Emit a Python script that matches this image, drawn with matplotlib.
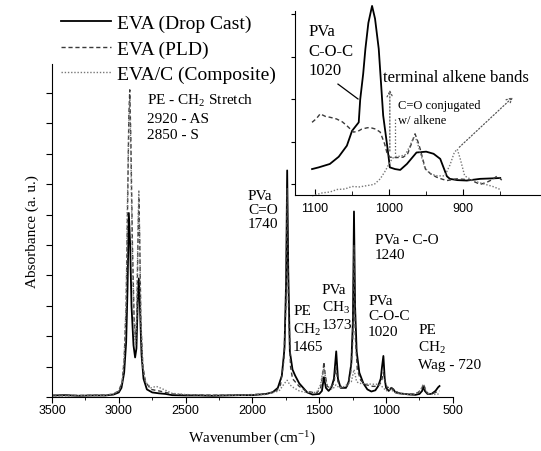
import matplotlib
matplotlib.use('Agg')
import matplotlib.pyplot as plt
from matplotlib.ticker import MultipleLocator, FixedLocator

plt.rcParams['font.family'] = ['Liberation Serif', 'DejaVu Serif']
plt.rcParams['mathtext.fontset'] = 'custom'
plt.rcParams['mathtext.rm'] = 'Liberation Serif'
plt.rcParams['mathtext.it'] = 'Liberation Serif:italic'

# ---- main spectra (wavenumber, absorbance in arbitrary units) ----
drop_wn = [3500, 3400, 3300, 3200, 3100, 3040, 3000, 2980, 2960, 2945, 2935, 2925, 2915, 2905,
           2890, 2878, 2868, 2858, 2850, 2842, 2830, 2815, 2790, 2750, 2700, 2650, 2600, 2500,
           2400, 2300, 2200, 2100, 2000, 1900, 1850, 1810, 1780, 1760, 1748, 1740, 1732, 1720,
           1700, 1680, 1650, 1620, 1590, 1550, 1500, 1480, 1465, 1450, 1430, 1410, 1390, 1373,
           1360, 1340, 1300, 1280, 1260, 1248, 1240, 1232, 1220, 1200, 1170, 1140, 1110, 1080,
           1060, 1040, 1030, 1020, 1010, 1000, 980, 960, 945, 930, 900, 860, 820, 780, 750,
           730, 720, 710, 690, 660, 630, 610, 600]
drop_abs = [0.05, 0.06, 0.04, 0.05, 0.05, 0.08, 0.15, 0.3, 0.8, 1.8, 3.5, 6.05, 5.0, 3.0,
            1.7, 1.3, 1.6, 3.2, 3.9, 3.0, 1.4, 0.6, 0.25, 0.15, 0.12, 0.1, 0.06, 0.05,
            0.05, 0.04, 0.05, 0.06, 0.06, 0.1, 0.15, 0.3, 0.7, 1.6, 3.8, 7.45, 4.2, 1.5,
            0.9, 0.7, 0.45, 0.3, 0.15, 0.08, 0.1, 0.2, 0.65, 0.3, 0.2, 0.3, 0.6, 1.5,
            0.6, 0.3, 0.3, 0.5, 1.1, 2.5, 6.1, 3.0, 1.5, 0.8, 0.45, 0.25, 0.18, 0.22,
            0.35, 0.6, 1.0, 1.35, 0.6, 0.3, 0.2, 0.3, 0.25, 0.15, 0.12, 0.1, 0.08, 0.07, 0.1,
            0.2, 0.35, 0.2, 0.1, 0.1, 0.2, 0.32, 0.36]

pld_wn = [3500, 3300, 3100, 3040, 3000, 2975, 2960, 2945, 2935, 2925, 2918, 2910, 2898, 2885,
          2875, 2865, 2857, 2850, 2843, 2835, 2820, 2800, 2760, 2700, 2650, 2600, 2500, 2300,
          2100, 1900, 1820, 1790, 1765, 1750, 1740, 1730, 1715, 1700, 1680, 1650, 1600, 1520,
          1490, 1475, 1465, 1455, 1440, 1420, 1390, 1375, 1360, 1330, 1290, 1265, 1250, 1240,
          1230, 1215, 1190, 1150, 1100, 1060, 1035, 1020, 1005, 990, 970, 950, 930, 900, 850,
          800, 760, 735, 720, 705, 690, 660, 630, 600]
pld_abs = [0.05, 0.05, 0.06, 0.1, 0.2, 0.5, 1.2, 3.0, 6.0, 9.2, 10.1, 8.5, 5.0, 2.5,
           1.9, 2.6, 5.0, 6.5, 5.0, 2.5, 1.0, 0.5, 0.25, 0.2, 0.15, 0.1, 0.07, 0.06,
           0.06, 0.1, 0.2, 0.4, 1.2, 3.0, 6.85, 3.0, 1.0, 0.6, 0.5, 0.35, 0.2, 0.12,
           0.3, 0.7, 1.15, 0.7, 0.35, 0.3, 0.45, 1.0, 0.5, 0.3, 0.35, 0.8, 1.8, 5.0,
           2.0, 0.9, 0.55, 0.4, 0.35, 0.35, 0.5, 0.8, 0.45, 0.3, 0.35, 0.25, 0.2, 0.12, 0.1,
           0.1, 0.15, 0.25, 0.43, 0.25, 0.12, 0.1, 0.15, 0.2]

comp_wn = [3500, 3300, 3100, 3040, 3000, 2975, 2960, 2945, 2935, 2925, 2918, 2910, 2898, 2885,
           2875, 2865, 2857, 2850, 2843, 2835, 2820, 2800, 2760, 2720, 2680, 2640, 2600, 2500,
           2300, 2100, 1900, 1800, 1760, 1740, 1720, 1690, 1650, 1600, 1520, 1490, 1475, 1465,
           1455, 1440, 1400, 1375, 1350, 1310, 1280, 1260, 1240, 1220, 1200, 1150, 1100, 1060,
           1040, 1020, 1000, 970, 950, 920, 880, 830, 780, 745, 725, 718, 705, 690, 650, 600]
comp_abs = [0.03, 0.04, 0.05, 0.1, 0.2, 0.5, 1.3, 3.2, 6.5, 9.0, 9.8, 8.0, 4.5, 2.2,
            1.7, 2.8, 5.5, 6.8, 5.0, 2.5, 1.0, 0.5, 0.3, 0.35, 0.28, 0.2, 0.12, 0.08,
            0.06, 0.06, 0.08, 0.2, 0.45, 0.55, 0.4, 0.3, 0.2, 0.15, 0.15, 0.4, 0.8, 0.95,
            0.7, 0.35, 0.25, 0.4, 0.3, 0.35, 0.45, 0.5, 0.9, 0.5, 0.45, 0.43, 0.42, 0.42,
            0.38, 0.3, 0.2, 0.25, 0.2, 0.12, 0.1, 0.08, 0.1, 0.2, 0.38, 0.42, 0.25, 0.12, 0.08, 0.1]

# ---- inset: 1100-850 cm-1 region ----
in_drop_wn = [1104, 1095, 1080, 1068, 1057, 1050, 1041, 1039, 1035, 1032, 1028, 1023, 1019, 1014,
              1008, 1002, 999, 992, 985, 976, 963, 950, 940, 931, 922, 918, 908, 895, 877, 862, 850]
in_drop_abs = [0.36, 0.40, 0.48, 0.65, 0.91, 1.26, 1.46, 2.0, 2.6, 3.19, 3.8, 4.2, 3.9, 3.19,
               1.62, 0.83, 0.40, 0.36, 0.34, 0.48, 0.75, 0.77, 0.72, 0.6, 0.19, 0.13, 0.1, 0.09,
               0.13, 0.14, 0.15]

in_pld_wn = [1104, 1098, 1093, 1086, 1080, 1071, 1063, 1057, 1048, 1042, 1037, 1030, 1026, 1018,
             1012, 1006, 1003, 999, 990, 981, 975, 970, 965, 961, 958, 951, 944, 936, 928, 922,
             915, 909, 900, 890, 877, 868, 860, 854, 848]
in_pld_abs = [1.46, 1.55, 1.66, 1.60, 1.58, 1.54, 1.47, 1.38, 1.23, 1.25, 1.30, 1.33, 1.34, 1.30,
              1.23, 0.95, 0.75, 0.64, 0.63, 0.64, 0.72, 0.95, 1.19, 1.0, 0.83, 0.36, 0.25, 0.17,
              0.12, 0.09, 0.11, 0.13, 0.12, 0.1, 0.0, 0.05, 0.12, 0.2, 0.1]

in_comp_wn = [1104, 1090, 1080, 1070, 1060, 1050, 1040, 1030, 1020, 1012, 1005, 999, 995, 990,
              985, 978, 972, 967, 963, 958, 952, 945, 935, 925, 918, 912, 908, 904, 898, 890,
              880, 870, 860, 850]
in_comp_abs = [-0.27, -0.2, -0.18, -0.12, -0.11, -0.05, -0.06, -0.03, 0.0, 0.13, 0.32, 0.52, 0.62,
               0.66, 0.66, 0.7, 0.9, 1.1, 1.05, 0.75, 0.4, 0.25, 0.2, 0.2, 0.45, 0.75, 0.83, 0.6,
               0.2, 0.12, 0.05, 0.0, -0.05, -0.12]

in_ticks = [1100, 1000, 900]
in_minor_ticks = [1050, 950, 850]

labels = ['EVA (Drop Cast)', 'EVA (PLD)', 'EVA/C (Composite)']

solid = dict(color='black', lw=1.3)
dashed = dict(color='#3a3a3a', lw=1.0, linestyle=(0, (3, 2)))
dotted = dict(color='#777777', lw=1.0, linestyle=(0, (1, 1.3)))

fig = plt.figure(figsize=(5.41, 4.52), dpi=100)
ax = fig.add_axes([0.0961, 0.1195, 0.741, 0.7367])

l1, = ax.plot(drop_wn, drop_abs, **solid)
l2, = ax.plot(pld_wn, pld_abs, **dashed)
l3, = ax.plot(comp_wn, comp_abs, **dotted)

ax.set_xlim(3500, 500)
ax.set_ylim(0, 10.95)
ax.xaxis.set_major_locator(MultipleLocator(500))
ax.xaxis.set_minor_locator(MultipleLocator(250))
ax.yaxis.set_major_locator(MultipleLocator(1))
ax.set_yticklabels([])
for s in ['top', 'right']:
    ax.spines[s].set_visible(False)
ax.tick_params(axis='x', which='major', direction='out', length=4, pad=1, labelsize=9)
ax.tick_params(axis='x', which='minor', direction='out', length=2)
ax.tick_params(axis='y', direction='out', length=4)
for t in ax.get_xticklabels():
    t.set_fontfamily('Liberation Sans')
ax.set_xlabel('Wavenumber (cm$^{-1}$)', fontsize=11, labelpad=9)
ax.set_ylabel('Absorbance (a. u.)', fontsize=11, labelpad=2)

fs = 11
ax.text(2789, 10.03, 'PE - CH$_2$ Stretch\n2920 - AS\n2850 - S', fontsize=fs, va='top', linespacing=1.37)
ax.text(2033, 6.84, 'PVa\nC=O\n1740', fontsize=fs, va='top', linespacing=1.11)
ax.text(1696, 3.06, 'PE\nCH$_2$\n1465', fontsize=fs, va='top', linespacing=1.3)
ax.text(1481, 3.75, 'PVa\nCH$_3$\n1373', fontsize=fs, va='top', linespacing=1.25)
ax.text(1082, 5.4, 'PVa - C-O\n1240', fontsize=fs, va='top', linespacing=1.18)
ax.text(1134, 3.39, 'PVa\nC-O-C\n1020', fontsize=fs, va='top', linespacing=1.24)
ax.text(760, 2.43, 'PE\nCH$_2$\nWag - 720', fontsize=fs, va='top', linespacing=1.25)

fig.legend([l1, l2, l3], labels, loc='upper left', bbox_to_anchor=(0.094, 0.987),
           frameon=False, fontsize=14, borderpad=0, handlelength=2.6,
           handletextpad=0.3, labelspacing=0.4)

# ---- inset ----
axin = fig.add_axes([0.5453, 0.5664, 0.4547, 0.407])
axin.patch.set_alpha(0)
axin.plot(in_drop_wn, in_drop_abs, clip_on=False, **solid)
axin.plot(in_pld_wn, in_pld_abs, clip_on=False, **dashed)
axin.plot(in_comp_wn, in_comp_abs, clip_on=False, **dotted)
axin.set_xlim(1127, 795)
axin.set_ylim(-0.25, 4.08)
axin.xaxis.set_major_locator(FixedLocator(in_ticks))
axin.xaxis.set_minor_locator(FixedLocator(in_minor_ticks))
axin.yaxis.set_major_locator(MultipleLocator(1))
axin.set_yticklabels([])
for s in ['top', 'right']:
    axin.spines[s].set_visible(False)
axin.tick_params(axis='x', which='major', direction='in', length=4, pad=5, labelsize=9)
axin.tick_params(axis='x', which='minor', direction='in', length=3)
axin.tick_params(axis='y', direction='out', length=3)
for t in axin.get_xticklabels():
    t.set_fontfamily('Liberation Sans')

axin.text(1109, 3.8, 'PVa\nC-O-C\n1020', fontsize=12, va='top', linespacing=1.3)
axin.plot([1069, 1042], [2.36, 2.01], color='black', lw=0.9)
axin.text(1008, 2.53, 'terminal alkene bands', fontsize=12, va='center')
axin.text(988, 2.0, 'C=O conjugated\nw/ alkene', fontsize=9, va='top', linespacing=1.3)
arrow = dict(arrowstyle='->', linestyle=':', color='#555555', lw=0.9)
axin.annotate('', xy=(999, 2.29), xytext=(999, 0.72), arrowprops=arrow)
axin.annotate('', xy=(830, 2.1), xytext=(908, 0.83), arrowprops=arrow)
axin.plot([992, 992], [1.55, 0.68], color='#555555', lw=0.9, linestyle=':')

fig.savefig('out.png', dpi=100)
